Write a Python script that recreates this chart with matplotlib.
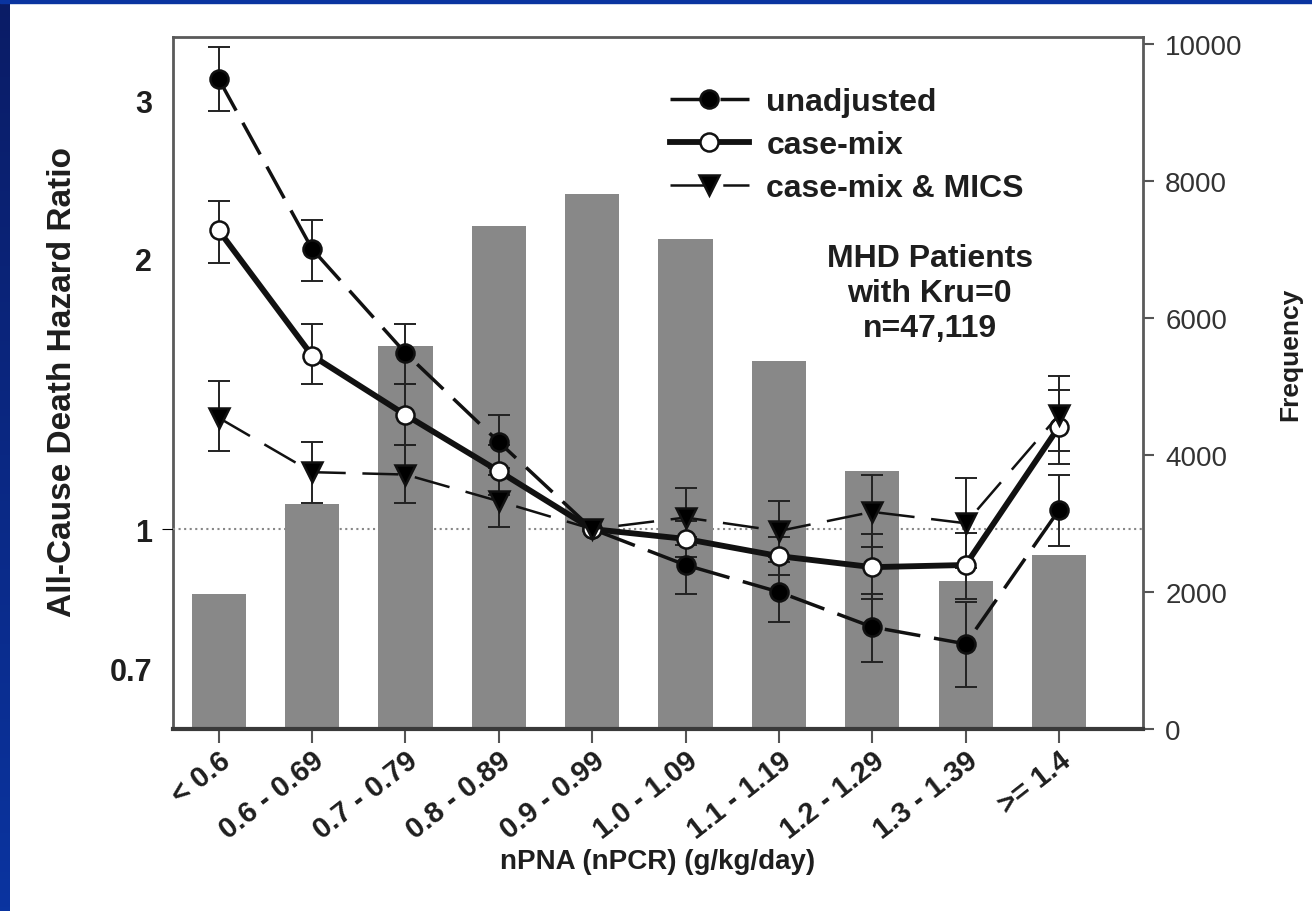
import matplotlib.pyplot as plt
import numpy as np
from matplotlib.patches import Rectangle
from matplotlib.colors import LinearSegmentedColormap
import matplotlib.transforms as mtransforms

plt.rcParams['font.family'] = ['Liberation Sans', 'DejaVu Sans']
plt.rcParams['lines.scale_dashes'] = False

# DATA
categories = ['< 0.6', '0.6 - 0.69', '0.7 - 0.79', '0.8 - 0.89', '0.9 - 0.99',
              '1.0 - 1.09', '1.1 - 1.19', '1.2 - 1.29', '1.3 - 1.39', '>= 1.4']
frequency = [1970, 3280, 5590, 7340, 7810, 7150, 5370, 3770, 2160, 2540]

hr_unadj = [3.17, 2.05, 1.57, 1.25, 1.0, 0.912, 0.851, 0.778, 0.745, 1.05]
hr_unadj_lo = [2.92, 1.89, 1.45, 1.17, 1.0, 0.847, 0.788, 0.711, 0.667, 0.957]
hr_unadj_hi = [3.44, 2.21, 1.69, 1.34, 1.0, 0.98, 0.919, 0.847, 0.829, 1.15]

hr_casemix = [2.15, 1.56, 1.34, 1.16, 1.0, 0.975, 0.933, 0.907, 0.912, 1.30]
hr_casemix_lo = [1.98, 1.45, 1.24, 1.09, 1.0, 0.93, 0.89, 0.836, 0.836, 1.18]
hr_casemix_hi = [2.32, 1.69, 1.45, 1.24, 1.0, 1.02, 0.98, 0.987, 0.99, 1.43]

hr_mics = [1.33, 1.157, 1.15, 1.074, 1.0, 1.03, 0.995, 1.045, 1.015, 1.34]
hr_mics_lo = [1.22, 1.07, 1.07, 1.005, 1.0, 0.96, 0.93, 0.955, 0.905, 1.22]
hr_mics_hi = [1.46, 1.25, 1.24, 1.148, 1.0, 1.11, 1.074, 1.148, 1.14, 1.48]

TXT = '#1e1e1e'

fig = plt.figure(figsize=(13.12, 9.12), dpi=100)
fig.patch.set_facecolor('white')

# blue slide border (left strip with gradient, thin top strip)
ax_b = fig.add_axes([0, 0, 10 / 1312, 1])
grad = np.linspace(0, 1, 256).reshape(-1, 1)
cm = LinearSegmentedColormap.from_list('b', ['#0a1c66', '#0a34a0'])
ax_b.imshow(grad, cmap=cm, aspect='auto')
ax_b.axis('off')
fig.add_artist(Rectangle((0, 1 - 4 / 912), 1, 4 / 912, transform=fig.transFigure,
                         color='#0a34a0', zorder=10))

ax = fig.add_axes([173 / 1312, 1 - 730 / 912, (1143 - 173) / 1312, (730 - 38) / 912])
x = np.arange(len(categories))

# frequency bars (right axis)
ax.bar(x, frequency, width=0.58, color='#888888', zorder=1)
ax.set_xlim(-0.49, 9.9)
ax.set_ylim(0, 10102)
ax.set_xticks(x)
ax.set_xticklabels(categories, rotation=38, ha='right', va='top',
                   rotation_mode='anchor', fontsize=21, fontweight='bold', color=TXT)
offset = mtransforms.ScaledTranslation(6 / 100, 0, fig.dpi_scale_trans)
for lab in ax.get_xticklabels():
    lab.set_transform(lab.get_transform() + offset)
ax.tick_params(axis='x', direction='out', length=10, width=1.5, color='#555', pad=2)
ax.set_xlabel('nPNA (nPCR) (g/kg/day)', fontsize=20, fontweight='bold', color=TXT)
ax.xaxis.set_label_coords(0.5, -0.172)
for s in ax.spines.values():
    s.set_color('#5a5a5a')
    s.set_linewidth(2)
ax.spines['bottom'].set_linewidth(3)
ax.spines['bottom'].set_color('#3a3a3a')

# hazard ratios (left axis, log scale)
axh = ax.twinx()

ax.yaxis.tick_right()
ax.yaxis.set_label_position('right')
ax.set_yticks([0, 2000, 4000, 6000, 8000, 10000])
ax.tick_params(axis='y', direction='out', length=8, width=1.5, color='#555',
               labelsize=20, labelcolor='#333', pad=8)
ax.set_ylabel('Frequency', fontsize=19, fontweight='bold', color=TXT)
ax.yaxis.set_label_coords(1.139, 0.543)

axh.set_yscale('log')
axh.set_ylim(0.599, 3.53)
axh.yaxis.tick_left()
axh.yaxis.set_label_position('left')
axh.set_yticks([0.7, 1, 2, 3])
axh.set_yticklabels(['0.7', '1', '2', '3'])
axh.minorticks_off()
axh.tick_params(axis='y', direction='out', length=0, labelsize=22, pad=15,
                labelcolor=TXT)
axh.yaxis.get_major_ticks()[1].tick1line.set_markersize(8)
for lab in axh.get_yticklabels():
    lab.set_fontweight('bold')
axh.set_ylabel('All-Cause Death Hazard Ratio', fontsize=24, fontweight='bold', color=TXT)
axh.yaxis.set_label_coords(-0.098, 0.503)
for s in axh.spines.values():
    s.set_visible(False)

axh.axhline(1, color='#888', linestyle=(0, (1.5, 2.5)), linewidth=1.5, zorder=2)

series = [
    (hr_unadj, hr_unadj_lo, hr_unadj_hi, 'unadjusted', 'o', 'black', 2.5, (0, (26, 10))),
    (hr_casemix, hr_casemix_lo, hr_casemix_hi, 'case-mix', 'o', 'white', 4.2, '-'),
    (hr_mics, hr_mics_lo, hr_mics_hi, 'case-mix & MICS', 'v', 'black', 1.8, (0, (26, 12))),
]
keep = [i for i in range(len(categories)) if i != 4]
for vals, lo, hi, name, mk, mfc, lw, ls in series:
    v = np.array(vals)
    yerr = np.array([v - np.array(lo), np.array(hi) - v])
    axh.errorbar(x[keep], v[keep], yerr=yerr[:, keep], fmt='none', ecolor='#222',
                 elinewidth=1.4, capsize=8, capthick=1.4, zorder=3)
    axh.plot(x, v, linestyle=ls, color='#111', linewidth=lw, marker=mk,
             markersize=13 if mk == 'o' else 14, markerfacecolor=mfc,
             markeredgecolor='#111', markeredgewidth=1.8, label=name, zorder=4)

leg = axh.legend(loc='upper left', bbox_to_anchor=(0.483, 0.969), frameon=False,
                 handlelength=2.45, handletextpad=0.56, labelspacing=0.4,
                 prop={'size': 23, 'weight': 'bold'})
for t in leg.get_texts():
    t.set_color(TXT)

axh.text(0.78, 0.63, 'MHD Patients\nwith Kru=0\nn=47,119', transform=axh.transAxes,
         ha='center', va='center', fontsize=23, fontweight='bold', color=TXT,
         linespacing=1.22)

fig.savefig('out.png', dpi=100)
